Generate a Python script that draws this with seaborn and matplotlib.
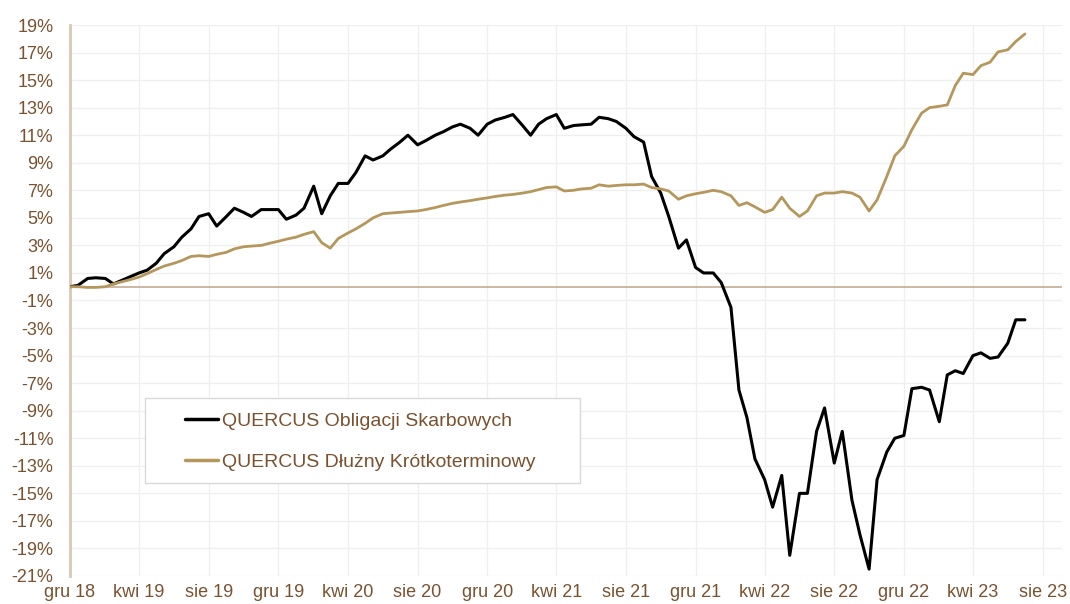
import matplotlib
matplotlib.use('Agg')
import matplotlib.pyplot as plt
from matplotlib.lines import Line2D
from matplotlib.patches import Rectangle
import pandas as pd
import seaborn as sns

# semi-monthly observations, Dec 2018 - Jul 2023
dates = pd.date_range('2018-12-01', periods=111, freq='SMS')

# QUERCUS Obligacji Skarbowych, % change since start
obligacji = [
    0.0, 0.1, 0.6, 0.65, 0.6, 0.2, 0.45, 0.7, 1.0, 1.2,
    1.7, 2.4, 2.9, 3.6, 4.2, 5.1, 5.3, 4.4, 5.1, 5.7,
    5.4, 5.1, 5.6, 5.6, 5.6, 4.9, 5.2, 5.7, 7.3, 5.3,
    6.6, 7.5, 7.5, 8.3, 9.5, 9.2, 9.5, 10.0, 10.5, 11.0,
    10.3, 10.6, 11.0, 11.25, 11.6, 11.8, 11.5, 11.0, 11.8, 12.1,
    12.3, 12.5, 11.7, 11.0, 11.8, 12.2, 12.5, 11.5, 11.7, 11.75,
    11.8, 12.3, 12.2, 12.0, 11.5, 10.9, 10.5, 8.0, 6.8, 5.1,
    2.8, 3.4, 1.4, 1.0, 1.0, 0.3, -1.5, -7.5, -9.5, -12.5,
    -14.0, -16.0, -13.7, -19.5, -15.0, -15.0, -10.5, -8.8, -12.8, -10.5,
    -15.5, -18.0, -20.5, -14.0, -12.0, -11.0, -10.8, -7.4, -7.3, -7.5,
    -9.8, -6.4, -6.1, -6.3, -5.0, -4.8, -5.2, -5.1, -4.1, -2.4,
    -2.4,
]

# QUERCUS Dluzny Krotkoterminowy, % change since start
dluzny = [
    0.0, 0.0, -0.05, -0.05, 0.0, 0.2, 0.35, 0.5, 0.7, 0.95,
    1.25, 1.5, 1.7, 1.9, 2.2, 2.25, 2.2, 2.35, 2.5, 2.75,
    2.9, 2.95, 3.0, 3.15, 3.3, 3.45, 3.6, 3.8, 4.0, 3.2,
    2.8, 3.5, 3.9, 4.2, 4.6, 5.0, 5.3, 5.35, 5.4, 5.45,
    5.5, 5.6, 5.75, 5.9, 6.05, 6.15, 6.25, 6.35, 6.45, 6.55,
    6.65, 6.7, 6.8, 6.9, 7.05, 7.2, 7.25, 6.95, 7.0, 7.1,
    7.15, 7.4, 7.3, 7.35, 7.4, 7.4, 7.45, 7.2, 7.1, 6.95,
    6.35, 6.6, 6.75, 6.85, 7.0, 6.9, 6.6, 5.9, 6.1, 5.8,
    5.4, 5.6, 6.5, 5.7, 5.1, 5.5, 6.6, 6.8, 6.8, 6.9,
    6.8, 6.5, 5.5, 6.3, 8.0, 9.5, 10.2, 11.4, 12.6, 13.0,
    13.1, 13.2, 14.6, 15.5, 15.4, 16.05, 16.3, 17.05, 17.2, 17.8,
    18.35,
]

names = ['QUERCUS Obligacji Skarbowych', 'QUERCUS Dłużny Krótkoterminowy']
colors = ['#000000', '#B5975C']
widths = [2.2, 2.0]

month_pl = ['sty', 'lut', 'mar', 'kwi', 'maj', 'cze',
            'lip', 'sie', 'wrz', 'paź', 'lis', 'gru']
tick_dates = pd.date_range('2018-12-01', '2023-08-01', freq='4MS')
y_ticks = list(range(-21, 20, 2))

text_color = '#7A5230'

sns.set_theme(style='white')
plt.rcParams['font.family'] = ['Liberation Sans', 'DejaVu Sans']

fig = plt.figure(figsize=(10.7, 6.04), dpi=100)
ax = fig.add_axes([70 / 1070, 1 - 576 / 604, (1062 - 70) / 1070, (576 - 25) / 604])

ax.axhline(0, color='#C4AC92', lw=1.2, zorder=1)

for name, vals, col, lw in zip(names, [obligacji, dluzny], colors, widths):
    df = pd.DataFrame({'data': dates, 'wartosc': vals})
    sns.lineplot(data=df, x='data', y='wartosc', color=col, linewidth=lw,
                 ax=ax, zorder=3)

ax.set_xlim(pd.Timestamp('2018-12-01'), pd.Timestamp('2023-09-04'))
ax.set_ylim(-21, 19)
ax.set_xticks(tick_dates)
ax.set_xticklabels([f"{month_pl[d.month - 1]} {d.year % 100:02d}" for d in tick_dates])
ax.set_yticks(y_ticks)
ax.set_yticklabels([f"{v}%" for v in y_ticks])
ax.set_xlabel('')
ax.set_ylabel('')

ax.grid(True, color='#EFEFEF', lw=0.9)
ax.tick_params(axis='both', length=0, labelcolor=text_color, labelsize=13)
ax.tick_params(axis='y', pad=12)
ax.tick_params(axis='x', pad=6)

for s in ['top', 'right', 'bottom']:
    ax.spines[s].set_visible(False)
ax.spines['left'].set_color('#D8C8B4')
ax.spines['left'].set_linewidth(2)

# legend box
fig.patches.append(Rectangle((145 / 1070, 1 - 483 / 604), 435 / 1070, 85 / 604,
                             transform=fig.transFigure, facecolor='white',
                             edgecolor='#D9D9D9', lw=1, zorder=5))
handles = [Line2D([], [], color=c, lw=2.5) for c in colors]
leg = fig.legend(handles, names, loc='upper left',
                 bbox_to_anchor=(185 / 1070, 1 - 412 / 604),
                 frameon=False, borderpad=0, borderaxespad=0,
                 fontsize=14, labelspacing=1.2, handlelength=1.7,
                 handletextpad=0.2, labelcolor=text_color)
leg.set_zorder(6)

fig.savefig('out.png', dpi=100)
